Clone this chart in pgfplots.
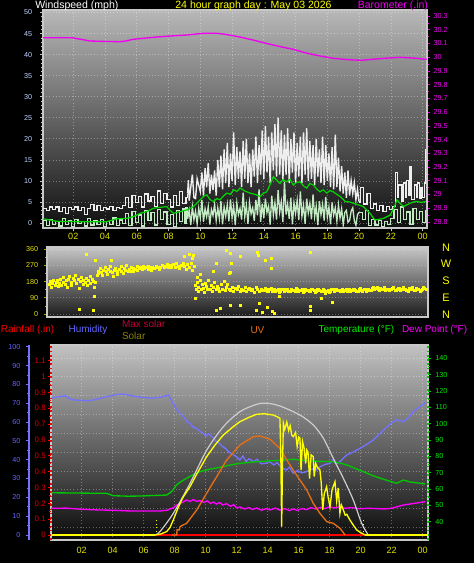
\documentclass[border=0pt]{standalone}
\usepackage{pgfplots}
\pgfplotsset{compat=1.18}
\usepackage{fontspec}
\setmainfont{Liberation Sans}
\definecolor{gustc}{RGB}{238,238,238}
\definecolor{spdc}{RGB}{195,235,195}
\definecolor{avgc}{RGB}{0,215,0}
\definecolor{baroc}{RGB}{240,0,240}
\definecolor{dirc}{RGB}{255,255,0}
\definecolor{dirlab}{RGB}{225,225,0}
\definecolor{dirtick}{RGB}{170,170,0}
\definecolor{humc}{RGB}{115,115,255}
\definecolor{humlab}{RGB}{100,100,255}
\definecolor{tempc}{RGB}{0,200,0}
\definecolor{templab}{RGB}{0,235,0}
\definecolor{dewc}{RGB}{255,0,255}
\definecolor{solc}{RGB}{255,255,0}
\definecolor{maxc}{RGB}{205,205,205}
\definecolor{uvc}{RGB}{230,110,20}
\definecolor{rainc}{RGB}{255,0,0}
\definecolor{rainlab}{RGB}{225,0,0}
\definecolor{xlab}{RGB}{225,225,0}
\definecolor{wlab}{RGB}{190,210,255}
\definecolor{axgray}{RGB}{200,200,200}
\definecolor{maxlab}{RGB}{190,0,55}
\definecolor{sollab}{RGB}{140,130,0}
\newcommand\tf{\fontsize{5.4}{6}\selectfont}
\newcommand\rf{\fontsize{5.9}{6}\selectfont}
\newcommand\xf{\fontsize{6.8}{7}\selectfont}
\newcommand\hf{\fontsize{7.9}{9}\selectfont}
\newcommand\lf{\fontsize{7.5}{9}\selectfont}
\pgfplotsset{every axis/.append style={scale only axis, anchor=south west, /pgf/number format/assume math mode=true}}
\begin{document}
\begin{tikzpicture}
\fill[black] (0,0) rectangle (355.5pt,422.25pt);
% ---------------- wind panel
\begin{axis}[at={(32.25pt,251.25pt)}, width=288pt, height=163.5pt,
  xmin=0.094, xmax=24.276, ymin=-1.19, ymax=50.6,
  axis background/.style={top color=black!28, middle color=black!70, bottom color=black!94},
  axis line style={draw=axgray, line width=0.8pt},
  xtick={2,4,...,24}, xticklabels={02,04,06,08,10,12,14,16,18,20,22,00},
  xticklabel style={font=\xf, text=xlab, inner sep=0pt, yshift=-1.3pt},
  ytick={0,5,...,50}, minor y tick num=4,
  yticklabel style={font=\tf, text=wlab, inner sep=0pt, xshift=-5.4pt},
  tick pos=left, tick align=outside, major tick length=2.5pt, minor tick length=1.3pt,
  tick style={draw=axgray, line width=0.4pt},
  xmajorgrids, ymajorgrids, major grid style={draw=white, opacity=0.35, dotted, line width=0.5pt},
  clip=true]
% gusts: quiet morning (stepped)
\addplot[gustc, line width=0.9pt, const plot] coordinates {(0.1,3.5)(0.3,3.0)(0.5,3.8)(0.7,3.2)(0.9,3.8)(1.1,2.8)(1.3,3.6)(1.5,2.2)(1.7,3.6)(1.9,3.2)(2.1,3.8)(2.3,2.9)(2.5,3.6)(2.7,2.0)(2.9,3.5)(3.1,4.3)(3.3,3.0)(3.5,4.2)(3.7,2.9)(3.9,3.6)(4.1,3.3)(4.3,4.0)(4.5,2.9)(4.7,3.7)(4.9,3.4)(5.1,4.2)(5.3,6.0)(5.5,3.6)(5.7,6.5)(5.9,4.8)(6.1,6.2)(6.3,3.8)(6.5,6.9)(6.7,5.2)(6.9,6.3)(7.1,4.0)(7.3,7.6)(7.5,4.6)(7.7,7.0)(7.9,5.5)(8.1,3.8)(8.3,6.5)(8.5,4.2)(8.7,7.4)(8.9,4.6)(9.1,6.0)(9.2,7.0)};
% gusts: active part (spiky)
\addplot[gustc, line width=1.05pt] coordinates {(9.2,7.0)(9.25,10.2)(9.3,5.3)(9.4,8.5)(9.5,11.5)(9.6,6.0)(9.7,5.8)(9.8,10.5)(9.9,9.0)
(10.0,7.5)(10.1,12.0)(10.2,6.5)(10.3,13.0)(10.4,8.5)(10.5,14.2)(10.6,7.0)(10.7,11.5)(10.8,7.8)(10.9,12.5)(11.0,6.5)(11.1,15.0)(11.2,8.5)(11.3,16.0)(11.4,8.0)(11.5,17.5)(11.6,9.5)(11.7,19.0)(11.8,8.5)(11.9,16.5)(12.0,10.0)(12.1,21.5)(12.2,9.0)(12.3,18.0)(12.4,10.5)(12.5,17.0)(12.6,8.5)(12.7,19.5)(12.8,10.5)(12.9,20.0)(13.0,9.5)(13.1,16.5)(13.2,8.5)(13.3,17.5)(13.4,11.0)(13.5,20.5)(13.6,9.5)(13.7,18.5)(13.8,11.5)(13.9,22.0)(14.0,10.5)(14.1,23.0)(14.2,12.0)(14.3,20.5)(14.4,9.5)(14.5,21.5)(14.6,12.5)(14.7,23.5)(14.8,11.0)(14.9,25.0)(15.0,11.5)(15.1,22.0)(15.2,10.0)(15.3,21.0)(15.4,11.5)(15.5,22.5)(15.6,9.5)(15.7,20.0)(15.8,12.0)(15.9,21.5)(16.0,9.5)(16.1,19.0)(16.2,11.0)(16.3,20.5)(16.4,9.5)(16.5,21.5)(16.6,11.5)(16.7,22.5)(16.8,10.0)(16.9,19.5)(17.0,10.5)(17.1,18.5)(17.2,9.0)(17.3,20.0)(17.4,11.0)(17.5,17.5)(17.6,9.5)(17.7,20.5)(17.8,9.0)(17.9,18.5)(18.0,10.0)(18.1,16.5)(18.2,8.5)(18.3,18.0)(18.4,8.0)(18.5,21.0)(18.6,8.5)(18.7,15.5)(18.8,7.5)(18.9,13.5)(19.0,7.0)(19.1,12.0)(19.2,6.0)(19.3,12.5)(19.4,6.5)(19.5,10.0)(19.6,7.0)(19.7,9.5)(19.8,5.5)(19.9,8.0)(20.0,5.0)};
% gusts: quiet evening (stepped)
\addplot[gustc, line width=0.9pt, const plot] coordinates {(20.0,5.0)(20.1,8.5)(20.3,4.5)(20.5,7.0)(20.7,3.5)(20.9,4.5)(21.1,3.0)(21.3,4.2)(21.5,2.8)(21.7,4.0)(21.9,3.2)(22.1,4.0)(22.3,12.0)(22.4,6.0)(22.5,9.0)(22.7,5.2)(22.8,9.5)(22.9,6.0)(23.0,10.0)(23.1,6.5)(23.2,13.5)(23.3,5.5)(23.5,9.0)(23.6,6.0)(23.7,9.5)(23.8,5.8)(23.9,8.5)(24.0,6.0)(24.1,9.5)(24.2,17.5)(24.27,17.5)};
% sustained speed
\addplot[spdc, line width=0.9pt, const plot] coordinates {(0.1,0.6)(0.3,-0.6)(0.5,0.9)(0.7,-0.3)(0.9,0.4)(1.1,-0.7)(1.3,1.0)(1.5,-0.4)(1.7,0.5)(1.9,-0.8)(2.1,0.8)(2.3,-0.2)(2.5,0.3)(2.7,-0.7)(2.9,1.1)(3.1,-0.5)(3.3,0.6)(3.5,-0.3)(3.7,0.9)(3.9,-0.8)(4.1,0.4)(4.3,-0.4)(4.5,1.2)(4.7,-0.6)(4.9,0.7)(5.1,-0.2)(5.3,2.2)(5.5,-0.6)(5.7,2.8)(5.9,0.2)(6.1,1.9)(6.3,-0.7)(6.5,3.0)(6.7,0.5)(6.9,2.5)(7.1,-0.5)(7.3,3.2)(7.5,0.8)(7.7,2.6)(7.9,-0.3)(8.1,2.0)(8.3,-0.8)(8.5,2.9)(8.7,0.3)(8.9,3.3)(9.0,0.0)(9.1,3.6)(9.2,1.0)};
\addplot[spdc, line width=1pt] coordinates {(9.2,1.0)(9.3,3.0)(9.4,-0.5)(9.5,3.9)(9.6,0.8)(9.7,2.8)(9.8,-0.2)(9.9,3.5)(10.0,1.2)(10.1,5.5)(10.2,0.3)(10.3,3.4)(10.4,1.5)(10.5,3.9)(10.6,-0.4)(10.7,3.2)(10.8,1.8)(10.9,4.5)(11.0,0.6)(11.1,3.6)(11.2,1.0)(11.3,5.2)(11.4,-0.3)(11.5,3.8)(11.6,1.6)(11.7,4.4)(11.8,0.4)(11.9,5.6)(12.0,1.3)(12.1,4.0)(12.2,-0.5)(12.3,4.8)(12.4,2.0)(12.5,3.5)(12.6,0.8)(12.7,7.2)(12.8,1.5)(12.9,4.2)(13.0,-0.2)(13.1,4.9)(13.2,2.2)(13.3,3.6)(13.4,0.5)(13.5,5.5)(13.6,1.8)(13.7,8.0)(13.8,0.3)(13.9,4.6)(14.0,1.2)(14.1,5.8)(14.2,2.5)(14.3,4.0)(14.4,-0.4)(14.5,6.5)(14.6,1.9)(14.7,4.8)(14.8,0.8)(14.9,7.8)(15.0,2.6)(15.1,5.0)(15.2,0.2)(15.3,9.8)(15.4,2.0)(15.5,4.5)(15.6,1.0)(15.7,6.0)(15.8,-0.3)(15.9,4.8)(16.0,2.3)(16.1,5.4)(16.2,0.7)(16.3,7.5)(16.4,1.6)(16.5,4.2)(16.6,-0.2)(16.7,5.8)(16.8,2.4)(16.9,4.6)(17.0,0.9)(17.1,6.8)(17.2,1.5)(17.3,4.0)(17.4,-0.5)(17.5,5.2)(17.6,2.0)(17.7,4.4)(17.8,0.6)(17.9,6.2)(18.0,1.4)(18.1,3.8)(18.2,-0.3)(18.3,4.9)(18.4,1.9)(18.5,3.6)(18.6,0.4)(18.7,4.3)(18.8,1.2)(18.9,3.4)(19.0,-0.4)(19.1,2.5)(19.2,3.0)(19.3,0.2)(19.4,0.6)(19.5,2.8)(19.6,3.6)(19.7,0.5)(19.8,-0.5)(19.9,2.0)(20.0,2.5)};
\addplot[spdc, line width=0.9pt, const plot] coordinates {(20.0,2.5)(20.2,0.8)(20.4,3.0)(20.6,-0.6)(20.8,0.8)(21.0,-0.5)(21.2,0.6)(21.4,-0.8)(21.6,0.4)(21.8,-0.4)(22.0,1.0)(22.2,3.2)(22.4,0.2)(22.6,3.8)(22.8,0.8)(23.0,2.6)(23.2,-0.4)(23.4,3.4)(23.6,0.9)(23.8,2.8)(24.0,0.1)(24.2,3.0)(24.27,3.0)};
\addplot[avgc, line width=0.9pt] coordinates {(0.11,1.0)(0.96,0.4)(2.43,0.3)(4.1,0.3)(4.74,1.0)(5.37,1.1)(5.79,1.5)(6.21,2.3)(6.63,2.7)(7.05,3.5)(7.47,3.7)(7.89,3.9)(8.1,3.0)(8.31,2.3)(8.73,2.7)(9.15,3.1)(9.57,3.9)(9.99,5.5)(10.2,6.3)(10.41,6.7)(10.6,5.6)(10.83,5.1)(11.05,5.8)(11.25,5.5)(11.45,6.4)(11.67,7.1)(11.9,6.8)(12.09,7.9)(12.3,7.5)(12.5,8.3)(12.8,7.6)(13.13,7.1)(13.45,6.8)(13.76,6.3)(13.95,7.0)(14.18,7.4)(14.4,9.2)(14.6,11.0)(14.8,10.2)(15.02,9.4)(15.2,10.3)(15.44,9.8)(15.65,10.4)(15.86,9.0)(16.05,9.6)(16.28,9.8)(16.5,8.8)(16.7,8.3)(16.9,9.4)(17.12,9.0)(17.35,8.0)(17.54,7.4)(17.75,7.9)(17.96,7.1)(18.17,7.7)(18.38,7.4)(18.6,6.8)(18.8,6.3)(19.0,5.6)(19.12,5.1)(19.4,5.0)(19.64,4.7)(19.95,4.3)(20.27,3.9)(20.5,3.0)(20.69,2.3)(20.85,1.4)(21.01,0.7)(21.3,0.9)(21.54,1.1)(21.75,1.5)(21.96,1.9)(22.2,3.6)(22.38,5.5)(22.6,4.6)(22.8,3.9)(23.0,4.3)(23.22,4.7)(23.44,5.0)(23.64,5.1)(23.9,4.9)(24.27,5.1)};
\end{axis}
% barometer overlay
\begin{axis}[at={(32.25pt,251.25pt)}, width=288pt, height=163.5pt,
  xmin=0.094, xmax=24.276, ymin=28.756, ymax=30.344,
  hide x axis, axis y line*=right, axis line style={draw=axgray, line width=0.8pt},
  ytick={28.8,28.9,29,29.1,29.2,29.3,29.4,29.5,29.6,29.7,29.8,29.9,30,30.1,30.2,30.3},
  minor y tick num=1,
  yticklabel style={font=\tf, text=baroc, inner sep=0pt, xshift=2.25pt},
  tick align=outside, major tick length=2.5pt, minor tick length=1.3pt,
  tick style={draw=baroc, line width=0.5pt}, clip=true]
\addplot[baroc, line width=1pt] coordinates {(0.09,30.142)(1.92,30.142)(2.5,30.130)(3.05,30.118)(4.0,30.115)(4.94,30.113)(5.3,30.118)(5.76,30.130)(6.6,30.140)(7.46,30.149)(8.3,30.156)(9.16,30.162)(10.17,30.174)(11.05,30.174)(11.5,30.168)(12.06,30.157)(12.7,30.142)(13.32,30.125)(13.95,30.107)(14.58,30.089)(15.2,30.073)(15.84,30.058)(16.72,30.029)(17.5,30.010)(18.36,29.992)(19.0,29.985)(19.61,29.980)(20.2,29.978)(20.87,29.985)(21.7,29.993)(22.57,29.999)(23.1,29.996)(23.64,29.992)(24.15,29.985)(24.27,29.985)};
\end{axis}
% ---------------- direction panel
\begin{axis}[at={(35.25pt,184.5pt)}, width=285.75pt, height=52.5pt,
  xmin=0.346, xmax=24.339, ymin=-16.7, ymax=372.8,
  axis background/.style={top color=black!22, middle color=black!60, bottom color=black!90},
  axis line style={draw=axgray, line width=0.8pt},
  xtick=\empty, ytick={0,90,180,270,360}, minor y tick num=1,
  yticklabel style={font=\tf, text=dirlab, inner sep=0pt, xshift=-4pt},
  tick pos=left, tick align=outside, major tick length=2.5pt, minor tick length=1.5pt,
  tick style={draw=dirtick, line width=0.6pt},
  ymajorgrids, major grid style={draw=white, opacity=0.3, dotted, line width=0.5pt}, clip=true]
\addplot[only marks, mark=square*, mark size=0.75pt, dirc] coordinates {
(0.5,165)(0.55,180)(0.6,150)(0.7,172)(0.75,190)(0.85,160)(0.9,178)(1.0,185)(1.05,155)(1.1,170)(1.2,195)(1.25,162)(1.35,175)(1.4,205)(1.5,168)(1.55,185)(1.6,150)(1.7,192)(1.75,210)(1.85,175)(1.9,160)(2.0,200)(2.05,185)(2.1,215)(2.2,170)(2.3,195)(2.35,145)(2.45,180)(2.5,205)(2.6,165)(2.65,190)(2.75,175)(2.8,200)(2.9,160)(2.95,185)(3.05,210)(3.1,170)(3.2,195)(3.25,180)(3.3,150)(3.4,175)
(3.5,215)(3.55,240)(3.6,225)(3.7,255)(3.75,230)(3.85,215)(3.9,245)(4.0,260)(4.05,235)(4.15,220)(4.2,250)(4.3,240)(4.35,265)(4.45,230)(4.5,210)(4.6,245)(4.65,255)(4.75,235)(4.8,220)(4.9,250)(5.0,265)(5.05,240)(5.15,225)(5.2,255)(5.3,245)(5.35,270)(5.45,235)(5.5,250)(5.6,240)(5.65,260)(5.75,255)(5.8,235)(5.9,250)(6.0,265)(6.05,245)(6.15,255)
(6.25,260)(6.35,250)(6.4,265)(6.5,255)(6.6,262)(6.7,250)(6.75,268)(6.85,258)(6.9,245)(7.0,262)(7.1,255)(7.2,268)(7.3,258)(7.4,250)(7.5,262)(7.6,270)(7.7,258)(7.8,265)(7.9,275)(8.0,262)(8.1,270)(8.2,260)
(8.3,275)(8.4,262)(8.5,280)(8.6,268)(8.7,255)(8.8,272)(8.9,285)(9.0,265)(9.1,250)(9.2,275)(9.3,260)(9.4,280)(9.5,245)(9.6,265)
(9.7,160)(9.75,140)(9.8,175)(9.85,125)(9.9,150)(10.0,185)(10.05,135)(10.1,165)(10.2,145)(10.25,120)(10.3,170)(10.4,155)(10.45,135)(10.5,190)(10.6,140)(10.7,160)(10.75,125)(10.8,150)(10.9,175)(11.0,135)(11.05,155)(11.15,145)(11.2,125)(11.3,165)(11.4,140)(11.5,180)(11.55,130)(11.65,150)(11.7,165)
(11.8,140)(11.9,130)(12.0,150)(12.1,125)(12.2,145)(12.3,135)(12.4,155)(12.5,128)(12.6,140)(12.7,132)(12.8,148)(12.9,125)(13.0,138)(13.1,145)(13.2,130)(13.3,140)(13.4,122)(13.5,150)(13.6,135)(13.7,128)
(13.85,140)(14.0,130)(14.15,138)(14.3,126)(14.45,142)(14.6,132)(14.75,128)(14.9,138)(15.05,125)(15.2,135)(15.35,130)(15.5,140)(15.65,128)(15.8,134)(15.95,124)(16.1,136)(16.25,130)(16.4,140)(16.55,127)(16.7,133)(16.85,125)(17.0,138)(17.15,130)(17.3,126)(17.45,135)(17.6,128)(17.75,140)(17.9,115)(18.05,132)(18.2,128)(18.35,138)(18.5,130)(18.65,134)(18.8,126)(18.95,140)(19.1,132)(19.25,128)(19.4,137)(19.55,130)(19.7,135)(19.85,128)(20.0,138)(20.15,132)(20.3,136)(20.45,129)(20.6,140)(20.75,133)(20.9,150)(21.05,142)(21.2,136)(21.35,145)(21.5,138)(21.65,132)(21.8,140)(21.95,135)(22.1,142)(22.25,130)(22.4,138)(22.55,145)(22.7,135)(22.85,140)(23.0,132)(23.15,143)(23.3,137)(23.45,130)(23.6,145)(23.75,138)(23.9,133)(24.05,148)(24.2,140)
(13.92,132)(14.07,145)(14.22,128)(14.37,136)(14.52,124)(14.67,140)(14.82,133)(14.97,122)(15.12,140)(15.27,127)(15.42,136)(15.57,124)(15.72,138)(15.87,130)(16.02,142)(16.17,126)(16.32,133)(16.47,122)(16.62,138)(16.77,131)(16.92,127)(17.07,135)(17.22,122)(17.37,140)(17.52,130)(17.67,125)(17.82,134)(17.97,128)(18.12,120)(18.27,136)(18.42,126)(18.57,140)(18.72,132)(18.87,130)(19.02,126)(19.17,140)(19.32,134)(19.47,127)(19.62,140)(19.77,133)(19.92,126)(20.07,142)(20.22,128)(20.37,140)(20.52,134)(20.67,130)(20.82,145)(20.97,138)(21.12,148)(21.27,132)(21.42,140)(21.57,146)(21.72,136)(21.87,130)(22.02,138)(22.17,146)(22.32,134)(22.47,141)(22.62,130)(22.77,146)(22.92,137)(23.07,128)(23.22,138)(23.37,146)(23.52,134)(23.67,140)(23.82,128)(23.97,138)(24.12,145)
(2.85,334)(2.38,28)(3.26,22)(3.3,100)(3.37,300)(4.42,297)(9.0,320)(9.3,330)(9.5,310)(9.56,328)(9.67,87)(9.8,205)(10.0,220)(10.8,240)(11.0,280)(11.03,22)(11.24,33)(11.66,356)(11.87,339)(11.8,228)(11.9,230)(11.97,284)(11.87,50)(12.5,50)(12.54,319)(13.55,20)(13.6,345)(13.65,328)(13.7,61)(13.9,11)(14.1,300)(14.2,40)(14.5,311)(14.5,256)(14.55,15)(14.65,5)(15.0,96)(16.9,341)(16.9,22)(16.95,41)(17.6,89)(18.3,63)};
\end{axis}
% ---------------- bottom panel background + humidity
\begin{axis}[at={(38.25pt,17.25pt)}, width=282.75pt, height=146.25pt,
  xmin=0.019, xmax=24.342, ymin=-2.66, ymax=100.9,
  axis background/.style={top color=black!24, middle color=black!69, bottom color=black!96},
  axis line style={draw=axgray, line width=0.8pt},
  xtick={2,4,...,24}, xticklabels={02,04,06,08,10,12,14,16,18,20,22,00},
  xticklabel style={font=\xf, text=xlab, inner sep=0pt, yshift=-5pt},
  ytick={4,14,24,34,44,54,64,74,84,94}, yticklabels=\empty,
  major tick length=0pt, minor tick length=0pt,
  xmajorgrids, ymajorgrids, major grid style={draw=white, opacity=0.33, dotted, line width=0.5pt}, clip=true]
\addplot[humc, line width=1pt] coordinates {(0.02,72.6)(0.5,73.5)(1.0,73.8)(1.3,72.0)(1.5,71.7)(2.0,71.5)(2.5,71.3)(3.0,72.2)(3.6,73.4)(4.2,74.5)(4.7,74.9)(5.2,74.0)(5.6,73.4)(6.1,73.0)(6.6,72.6)(7.1,73.2)(7.6,74.3)(7.9,70.0)(8.1,67.0)(8.35,64.6)(8.6,62.5)(8.8,60.0)(9.0,59.3)(9.2,57.0)(9.4,56.7)(9.6,55.2)(9.85,54.0)(10.0,52.5)(10.2,53.8)(10.5,51.4)(10.7,49.5)(10.9,48.5)(11.1,46.9)(11.3,45.8)(11.5,44.0)(11.8,42.5)(12.0,41.5)(12.2,39.8)(12.4,42.0)(12.6,39.0)(12.8,40.5)(13.1,38.9)(13.3,40.2)(13.6,37.8)(13.9,38.1)(14.1,39.0)(14.4,37.2)(14.6,38.5)(14.9,35.8)(15.2,34.5)(15.4,36.0)(15.65,32.8)(15.9,34.2)(16.2,33.0)(16.5,33.6)(16.8,35.0)(17.1,34.5)(17.4,36.3)(17.7,37.5)(18.0,38.0)(18.2,39.8)(18.4,37.8)(18.66,38.9)(18.9,41.0)(19.1,42.5)(19.5,44.0)(19.95,46.0)(20.4,48.2)(20.8,50.4)(21.2,53.5)(21.7,57.5)(22.0,59.5)(22.3,61.1)(22.75,60.2)(23.1,62.5)(23.4,65.5)(23.8,68.0)(24.15,70.3)};
\end{axis}
% rain axis
\begin{axis}[at={(38.25pt,17.25pt)}, width=282.75pt, height=146.25pt,
  xmin=0.019, xmax=24.342, ymin=-0.0316, ymax=1.199,
  hide x axis, axis y line*=left, axis line style={draw=rainc, dotted, line width=1.2pt},
  ytick={0,0.1,0.2,0.3,0.4,0.5,0.6,0.7,0.8,0.9,1,1.1}, minor y tick num=1,
  yticklabel style={font=\rf, text=rainlab, inner sep=0pt, xshift=-1.3pt},
  tick align=outside, major tick length=2.5pt, minor tick length=1.3pt,
  tick style={draw=rainc, line width=0.5pt, solid}, clip=true]
\addplot[rainc, line width=1.3pt] coordinates {(0.02,0)(24.34,0)};
\end{axis}
% temperature axis
\begin{axis}[at={(38.25pt,17.25pt)}, width=282.75pt, height=146.25pt,
  xmin=0.019, xmax=24.342, ymin=28.8, ymax=148.1,
  hide x axis, axis y line*=right, axis line style={draw=tempc, dotted, line width=1.2pt},
  ytick={40,50,...,140}, minor y tick num=1,
  yticklabel style={font=\tf, text=templab, inner sep=0pt, xshift=2.8pt},
  tick align=outside, major tick length=2.5pt, minor tick length=1.3pt,
  tick style={draw=tempc, line width=0.5pt, solid}, clip=true]
\addplot[tempc, line width=1pt] coordinates {(0.02,57.7)(1,57.6)(2,57.5)(3,57.4)(3.6,57.4)(4.04,55.9)(5,55.6)(5.76,55.7)(6.5,56.0)(7.48,56.3)(7.8,58.4)(8.13,62.5)(8.4,64.5)(8.77,66.6)(9.2,68.8)(9.63,70.6)(10.2,72.0)(10.92,73.3)(11.5,74.5)(12.21,75.7)(13.0,76.5)(13.94,77.1)(14.8,77.6)(15.65,78.2)(16.52,77.3)(17.4,76.9)(18.23,76.7)(18.7,75.8)(19.1,74.7)(19.6,72.8)(20.17,70.6)(20.7,68.5)(21.25,66.6)(21.8,65.0)(22.32,63.5)(22.75,65.5)(23.18,64.3)(23.6,63.8)(24.15,63.1)};
\addplot[dewc, line width=1pt] coordinates {(0.02,48.2)(1,48.3)(2,47.6)(3,47.2)(4,47.0)(5,46.6)(6,46.5)(7,46.5)(7.5,47.0)(7.9,48.5)(8.13,50.2)(8.5,51.8)(8.77,53.3)(9.0,52.4)(9.2,53.6)(9.4,52.5)(9.63,52.9)(9.9,51.8)(10.1,52.8)(10.3,51.2)(10.5,52.0)(10.7,50.8)(10.9,51.7)(11.1,50.2)(11.35,51.0)(11.6,49.4)(11.8,50.4)(12.0,48.5)(12.21,49.0)(12.5,47.8)(12.8,48.6)(13.0,47.5)(13.3,48.4)(13.6,47.0)(13.9,48.0)(14.15,47.2)(14.5,48.3)(14.8,47.0)(15.1,48.0)(15.4,46.8)(15.65,47.8)(15.9,46.9)(16.2,48.0)(16.5,47.4)(16.8,48.6)(17.1,47.8)(17.4,48.8)(17.7,48.0)(18.0,49.2)(18.3,48.4)(18.66,49.2)(19.0,48.2)(19.4,48.6)(19.95,47.9)(20.5,48.2)(21.0,48.0)(21.5,47.8)(22.0,48.2)(22.75,50.2)(23.3,51.0)(24.15,52.2)};
\end{axis}
% solar / max solar / UV overlay (humidity scale)
\begin{axis}[at={(38.25pt,17.25pt)}, width=282.75pt, height=146.25pt,
  xmin=0.019, xmax=24.342, ymin=-2.66, ymax=100.9, hide x axis, hide y axis, clip=true]
\addplot[maxc, line width=0.9pt, smooth] coordinates {(6.73,0)(7.05,1.8)(7.91,11.5)(8.99,27.4)(10.06,45)(11.14,57.5)(12.21,65.5)(13.29,69.4)(13.93,70)(14.79,68.5)(16.08,63.7)(16.94,58.4)(17.59,51.4)(18.23,40.7)(18.88,30.1)(19.52,18.6)(20.06,6.2)(20.49,0)};
\addplot[uvc, line width=1pt] coordinates {(7.8,0)(8.13,0)(8.15,2.7)(8.3,2.7)(8.35,4.5)(8.77,6.2)(9.42,13.3)(10.06,22.1)(10.71,31)(11.35,39.8)(12.21,47.8)(13.07,52.2)(13.5,52.6)(14.15,50.8)(14.79,46)(15.23,39.8)(15.65,34.5)(16.08,29.2)(16.52,23.9)(16.94,16.8)(17.37,11.5)(17.81,7.1)(18.23,6.2)(18.66,3.6)(18.99,0)};
\addplot[solc, line width=1.6pt] coordinates {(0.02,0)(6.73,0)};
\addplot[solc, line width=1.6pt] coordinates {(20.3,0)(24.34,0)};
\addplot[solc, line width=1pt] coordinates {(6.73,0)(7.1,0.5)(7.48,1.8)(7.7,4.0)(7.91,8.0)(8.2,14.0)(8.5,19.5)(8.99,25.7)(9.5,33.5)(10.06,41.6)(10.6,47.8)(11.14,53.1)(11.7,57.0)(12.21,60.2)(12.8,62.5)(13.29,64.1)(13.8,64.4)(14.36,63.7)(14.6,62.8)(14.79,62.0)(14.85,40.0)(14.9,4.4)(14.95,35.0)(15.01,59.3)(15.1,56.0)(15.23,60.0)(15.35,55.5)(15.45,58.0)(15.55,53.0)(15.65,52.2)(15.8,54.5)(15.9,47.0)(16.0,52.0)(16.08,51.4)(16.15,34.5)(16.25,49.5)(16.35,46.0)(16.45,38.0)(16.52,45.1)(16.6,44.0)(16.7,30.0)(16.8,42.5)(16.94,41.6)(17.0,31.0)(17.1,38.0)(17.2,36.0)(17.37,34.5)(17.45,28.0)(17.55,13.3)(17.65,22.0)(17.8,25.7)(17.9,20.0)(18.02,15.0)(18.15,24.0)(18.34,28.3)(18.45,18.0)(18.55,25.0)(18.66,11.5)(18.75,16.0)(18.88,13.3)(19.0,10.5)(19.1,11.0)(19.3,8.0)(19.5,5.5)(19.74,2.7)(19.95,1.5)(20.17,0.5)(20.3,0)};
\addplot[solc, dotted, line width=0.6pt] coordinates {(6.79,0)(6.79,8)};
\addplot[solc, dotted, line width=0.6pt] coordinates {(20.17,0)(20.17,8)};
\end{axis}
% humidity tick axis
\begin{axis}[at={(21.75pt,17.25pt)}, width=0.5pt, height=146.25pt,
  xmin=0, xmax=1, ymin=-2.66, ymax=100.9,
  hide x axis, axis y line*=left, axis line style={draw=humc, line width=1.1pt},
  ytick={0,10,...,100}, minor y tick num=1,
  yticklabel style={font=\tf, text=humlab, inner sep=0pt, xshift=-3.75pt},
  tick align=outside, major tick length=2.5pt, minor tick length=1.5pt,
  tick style={draw=humc, line width=0.6pt}]
\end{axis}
% ---------------- texts
\node[anchor=west, inner sep=0pt, text=white, font=\hf] at (26.25pt,417.75pt) {Windspeed (mph)};
\node[inner sep=0pt, text=solc, font=\hf] at (190.1pt,417.75pt) {24 hour graph day : May 03 2026};
\node[anchor=east, inner sep=0pt, text=baroc, font=\hf] at (321.2pt,417.75pt) {Barometer (.in)};
\node[inner sep=0pt, text=dirc, font=\fontsize{8.2}{9}\selectfont] at (334.5pt,236.8pt) {N};
\node[inner sep=0pt, text=dirc, font=\fontsize{8.2}{9}\selectfont] at (334.5pt,224.3pt) {W};
\node[inner sep=0pt, text=dirc, font=\fontsize{8.2}{9}\selectfont] at (334.5pt,211.5pt) {S};
\node[inner sep=0pt, text=dirc, font=\fontsize{8.2}{9}\selectfont] at (334.5pt,198.8pt) {E};
\node[inner sep=0pt, text=dirc, font=\fontsize{8.2}{9}\selectfont] at (334.5pt,186pt) {N};
\node[anchor=west, inner sep=0pt, text=rainc, font=\lf] at (0.5pt,174.75pt) {Rainfall (.in)};
\node[anchor=west, inner sep=0pt, text=humlab, font=\lf] at (51.2pt,174.75pt) {Humidity};
\node[anchor=west, inner sep=0pt, text=maxlab, font=\lf] at (91.3pt,179.25pt) {Max solar};
\node[anchor=west, inner sep=0pt, text=sollab, font=\lf] at (91.3pt,170.25pt) {Solar};
\node[inner sep=0pt, text=uvc, font=\lf] at (193.1pt,174.75pt) {UV};
\node[anchor=west, inner sep=0pt, text=templab, font=\lf] at (238.7pt,174.75pt) {Temperature (°F)};
\node[anchor=west, inner sep=0pt, text=dewc, font=\lf] at (301.3pt,174.75pt) {Dew Point (°F)};
\pgfresetboundingbox
\useasboundingbox (0,0) rectangle (355.5pt,422.25pt);
\end{tikzpicture}
\end{document}
